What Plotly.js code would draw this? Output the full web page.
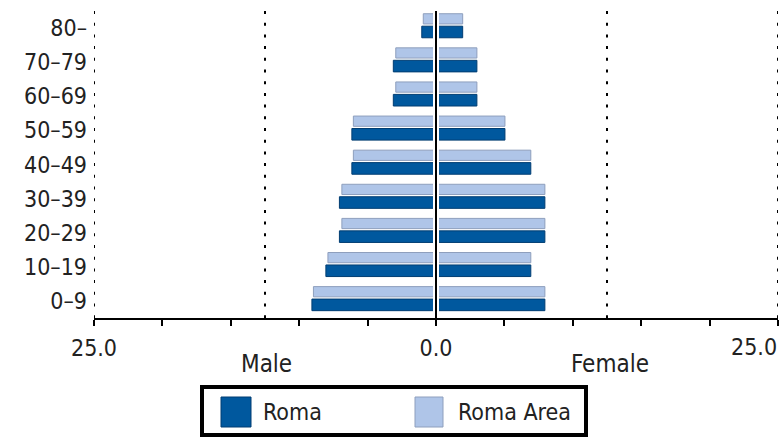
<!DOCTYPE html>
<html>
<head>
<meta charset="utf-8">
<script src="https://cdn.plot.ly/plotly-3.0.1.min.js"></script>
<style>html,body{margin:0;padding:0;background:#fff;overflow:hidden;}#chart{width:780px;height:439px;}</style>
</head>
<body>
<div id="chart"></div>
<script>
// Age groups, bottom to top
const categories = ['0–9','10–19','20–29','30–39','40–49','50–59','60–69','70–79','80–'];
// Male values (plotted on the left)
const romaMale     = [9.07, 8.05, 7.06, 7.06, 6.15, 6.15, 3.12, 3.12, 1.04];
const romaAreaMale = [8.96, 7.90, 6.88, 6.88, 6.04, 6.04, 2.94, 2.94, 0.93];
// Female values (plotted on the right)
const romaFemale     = [7.96, 6.93, 7.96, 7.96, 6.93, 5.04, 2.99, 2.99, 1.95];
const romaAreaFemale = [7.96, 6.93, 7.96, 7.96, 6.93, 5.04, 2.99, 2.99, 1.95];
// Axis ticks (the right-hand end label is placed as an annotation so it stays inside the page)
const tickValues = [-25,-20,-15,-10,-5,0,5,10,15,20,25];
const tickLabels = ['25.0','','','','','0.0','','','','',''];
const rightEndLabel = '25.0';
const seriesNames = ['Roma','Roma Area'];
const sideLabels = ['Male','Female'];

const DARK = '#00589e', DARK_LINE = '#003d72';
const LIGHT = '#afc5e8', LIGHT_LINE = '#8e9fbd';
const FONT = 'DejaVu Sans Condensed, DejaVu Sans, sans-serif';
const TXT = '#222';

function bar(vals, sign, color, lineColor, offset, width, name) {
  return {
    type: 'bar', orientation: 'h', name: name,
    y: categories, x: vals.map(v => sign * v),
    offset: offset, width: width,
    marker: {color: color, line: {color: lineColor, width: 1}},
    hoverinfo: 'skip', showlegend: false
  };
}

const traces = [
  bar(romaMale, -1, DARK, DARK_LINE, -0.285, 0.34, seriesNames[0]),
  bar(romaFemale, 1, DARK, DARK_LINE, -0.285, 0.34, seriesNames[0]),
  bar(romaAreaMale, -1, LIGHT, LIGHT_LINE, 0.12, 0.30, seriesNames[1]),
  bar(romaAreaFemale, 1, LIGHT, LIGHT_LINE, 0.12, 0.30, seriesNames[1])
];

// pixel helpers for legend placement (plot area: x 94..778, y 11..318)
const px = p => (p - 94) / 684;
const py = p => (318 - p) / 307;

const shapes = [];
[-25, -12.5, 12.5, 25].forEach(v => shapes.push({
  type: 'line', xref: 'x', yref: 'paper', x0: v, x1: v, y0: 1, y1: 0,
  line: {color: '#000', width: 2, dash: '3px,8.7px'}, layer: 'below'
}));
shapes.push({type: 'rect', xref: 'x', yref: 'paper', x0: -0.22, x1: 0.22, y0: 0, y1: 1,
  fillcolor: '#fff', line: {width: 0}, layer: 'above'});
shapes.push({type: 'line', xref: 'x', yref: 'paper', x0: 0, x1: 0, y0: 0, y1: 1,
  line: {color: '#000', width: 2}, layer: 'above'});
// legend box
shapes.push({type: 'rect', xref: 'paper', yref: 'paper', x0: px(202), x1: px(586), y0: py(435), y1: py(387),
  line: {color: '#000', width: 4}, fillcolor: '#fff'});
shapes.push({type: 'rect', xref: 'paper', yref: 'paper', x0: px(221), x1: px(251), y0: py(427), y1: py(397),
  line: {color: DARK_LINE, width: 1}, fillcolor: DARK});
shapes.push({type: 'rect', xref: 'paper', yref: 'paper', x0: px(415), x1: px(443), y0: py(427), y1: py(397),
  line: {color: LIGHT_LINE, width: 1}, fillcolor: LIGHT});

const annotations = [
  {xref: 'paper', yref: 'paper', x: px(779), y: py(347), text: rightEndLabel, showarrow: false,
   xanchor: 'right', yanchor: 'middle', font: {family: FONT, size: 23, color: TXT}},
  {xref: 'x', yref: 'paper', x: -12.4, y: py(364), text: sideLabels[0], showarrow: false,
   xanchor: 'center', yanchor: 'middle', font: {family: FONT, size: 24, color: TXT}},
  {xref: 'x', yref: 'paper', x: 12.7, y: py(364), text: sideLabels[1], showarrow: false,
   xanchor: 'center', yanchor: 'middle', font: {family: FONT, size: 24, color: TXT}},
  {xref: 'paper', yref: 'paper', x: px(261), y: py(411.5), text: seriesNames[0], showarrow: false,
   xanchor: 'left', yanchor: 'middle', font: {family: FONT, size: 23, color: TXT}},
  {xref: 'paper', yref: 'paper', x: px(456), y: py(411.5), text: seriesNames[1], showarrow: false,
   xanchor: 'left', yanchor: 'middle', font: {family: FONT, size: 23, color: TXT}}
];

const layout = {
  width: 780, height: 439,
  margin: {l: 94, r: 2, t: 11, b: 121, pad: 0},
  paper_bgcolor: '#fff', plot_bgcolor: '#fff',
  barmode: 'overlay', showlegend: false,
  xaxis: {
    range: [-25, 25], showgrid: false, zeroline: false,
    showline: true, linecolor: '#000', linewidth: 2,
    ticks: 'outside', ticklen: 6, tickwidth: 2, tickcolor: '#000',
    tickvals: tickValues, ticktext: tickLabels,
    tickfont: {family: FONT, size: 23, color: TXT},
    ticklabelstandoff: 2, fixedrange: true
  },
  yaxis: {
    type: 'category', range: [-0.5, 8.5],
    showgrid: false, zeroline: false, showline: false, ticks: '',
    tickfont: {family: FONT, size: 23, color: TXT},
    ticklabelstandoff: 6, fixedrange: true
  },
  shapes: shapes,
  annotations: annotations
};

Plotly.newPlot('chart', traces, layout, {staticPlot: true, displayModeBar: false});
</script>
</body>
</html>
